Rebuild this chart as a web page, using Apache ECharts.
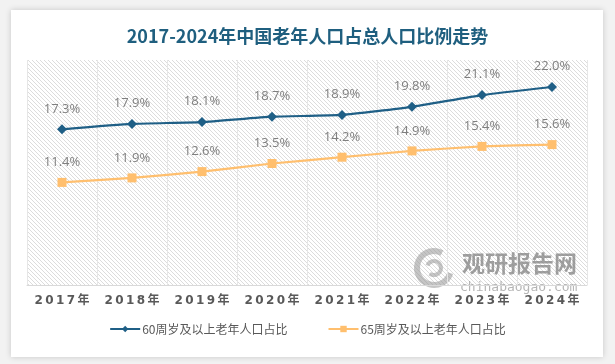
<!DOCTYPE html>
<html><head><meta charset="utf-8">
<script src="https://cdn.jsdelivr.net/npm/echarts@6/dist/echarts.min.js"></script>
<style>
html,body{margin:0;padding:0;background:#f2f2f2;}
#card{position:absolute;left:11px;top:10px;width:592px;height:347px;background:#fff;box-shadow:0 0 6px rgba(0,0,0,0.18);}
#c{position:absolute;left:0;top:0;width:615px;height:364px;}
</style></head>
<body>
<div id="card"></div>
<div id="c"></div>
<script>
const categories = ['2017年','2018年','2019年','2020年','2021年','2022年','2023年','2024年'];
const s60 = [17.3, 17.9, 18.1, 18.7, 18.9, 19.8, 21.1, 22.0];
const s65 = [11.4, 11.9, 12.6, 13.5, 14.2, 14.9, 15.4, 15.6];
const seriesNames = ['60周岁及以上老年人口占比','65周岁及以上老年人口占比'];
const titleText = '2017-2024年中国老年人口占总人口比例走势';

const pc = document.createElement('canvas');
pc.width = 4; pc.height = 4;
const g = pc.getContext('2d');
g.fillStyle = '#ffffff'; g.fillRect(0,0,4,4);
g.strokeStyle = '#dcdcdc'; g.lineWidth = 1;
g.beginPath();
g.moveTo(0,0); g.lineTo(4,4);
g.moveTo(-2,2); g.lineTo(2,6);
g.moveTo(2,-2); g.lineTo(6,2);
g.stroke();

const spaced = s => s.split('').join('\u2009');

const chart = echarts.init(document.getElementById('c'), null, {renderer:'canvas'});
chart.setOption({
  backgroundColor: 'transparent',
  title: {text: titleText, left: 'center', top: 22,
    textStyle: {fontSize: 18, fontWeight: 'bold', color: '#1f5f7f', fontFamily: 'Noto Sans CJK SC'}},
  grid: {left: 27, right: 28, top: 60, bottom: 79, show: true,
    backgroundColor: {image: pc, repeat: 'repeat'}, borderWidth: 0},
  legend: {bottom: 24, itemGap: 40, itemWidth: 30, itemHeight: 8,
    textStyle: {fontSize: 12, color: '#595959', fontFamily: 'Noto Sans CJK SC', padding: [0,0,0,-3]},
    data: seriesNames},
  xAxis: {type: 'category', data: categories, boundaryGap: true,
    axisLine: {show: true, lineStyle: {color: '#d9d9d9', width: 1}},
    axisTick: {show: false},
    splitLine: {show: true, lineStyle: {color: '#e6e6e6'}},
    axisLabel: {color: '#595959', fontSize: 12, fontWeight: 'bold', margin: 10, interval: 0,
      formatter: v => spaced(v),
      fontFamily: 'DejaVu Sans, Noto Sans CJK SC'}},
  yAxis: {type: 'value', min: 0, max: 25, show: false, splitLine: {show: false}},
  graphic: [
    {type: 'arc', shape: {cx: 434, cy: 268, r: 17, startAngle: 0.3, endAngle: 5.2}, style: {stroke: 'rgba(150,150,150,0.55)', lineWidth: 6, fill: null}},
    {type: 'arc', shape: {cx: 434, cy: 268, r: 7, startAngle: 3.5, endAngle: 8.5}, style: {stroke: 'rgba(150,150,150,0.55)', lineWidth: 4, fill: null}},
    {type: 'text', left: 462, top: 252, style: {text: '观研报告网', fontSize: 23, fontWeight: 'bold', fill: 'rgba(120,120,120,0.7)', fontFamily: 'Noto Sans CJK SC'}},
    {type: 'text', left: 460, top: 281, style: {text: 'chinabaogao.com', fontSize: 13, fill: 'rgba(150,150,150,0.7)', fontFamily: 'DejaVu Sans Mono'}}
  ],
  series: [
    {name: seriesNames[0], type: 'line', data: s60, smooth: 0.15,
      symbol: 'diamond', symbolSize: 10,
      lineStyle: {color: '#1f5f86', width: 2.2}, itemStyle: {color: '#1f5f86'},
      label: {show: true, position: 'top', distance: 9, formatter: p => p.value.toFixed(1) + '%',
        color: '#7f7f7f', fontSize: 13, fontFamily: 'Open Sans'}},
    {name: seriesNames[1], type: 'line', data: s65, smooth: 0.15,
      symbol: 'rect', symbolSize: 9,
      lineStyle: {color: '#ffbf6e', width: 2.2}, itemStyle: {color: '#ffbf6e'},
      label: {show: true, position: 'top', distance: 9, formatter: p => p.value.toFixed(1) + '%',
        color: '#7f7f7f', fontSize: 13, fontFamily: 'Open Sans'}}
  ]
});
</script>
</body></html>
